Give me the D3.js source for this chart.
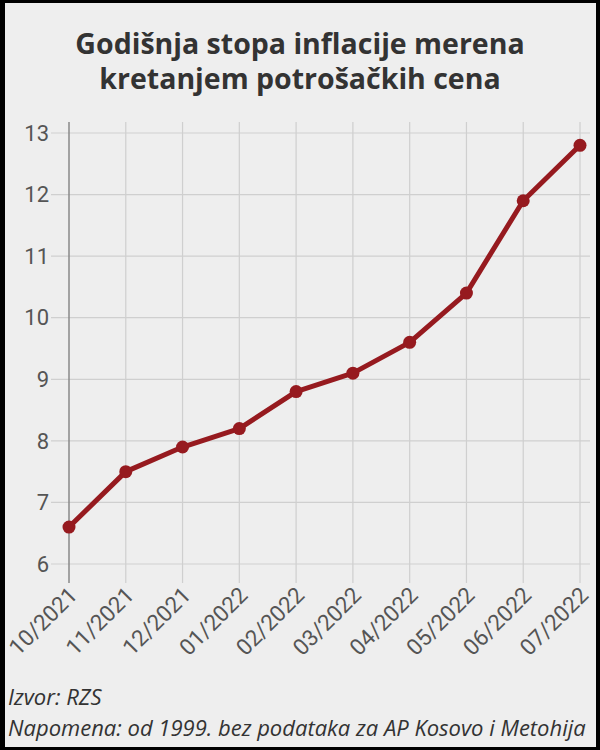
<!DOCTYPE html>
<html><head><meta charset="utf-8">
<script src="https://cdn.jsdelivr.net/npm/d3@7"></script>
<style>
html,body{margin:0;padding:0;background:#000;}
#wrap{position:absolute;left:5px;top:3px;width:591px;height:744px;background:#eeeeee;overflow:hidden;}
</style></head>
<body><div id="wrap"></div>
<script>
const categories = ["10/2021","11/2021","12/2021","01/2022","02/2022","03/2022","04/2022","05/2022","06/2022","07/2022"];
const values = [6.6, 7.5, 7.9, 8.2, 8.8, 9.1, 9.6, 10.4, 11.9, 12.8];
const yTicks = [6,7,8,9,10,11,12,13];
const titleLines = ["Godišnja stopa inflacije merena","kretanjem potrošačkih cena"];
const notes = ["Izvor: RZS","Napomena: od 1999. bez podataka za AP Kosovo i Metohija"];

const ox = 5, oy = 3; // wrapper offset
const svg = d3.select("#wrap").append("svg").attr("width",591).attr("height",744);
const g = svg.append("g").attr("transform",`translate(${-ox},${-oy})`);

g.selectAll("text.title").data(titleLines).join("text")
  .attr("x",300).attr("y",(d,i)=>54+i*35)
  .attr("text-anchor","middle")
  .attr("font-family","'Open Sans', sans-serif").attr("font-weight","bold")
  .attr("font-size",28.5).attr("fill","#333").text(d=>d);

const x = d3.scalePoint().domain(categories).range([69,580]);
const y = d3.scaleLinear().domain([6,13]).range([564,133]);

// horizontal grid
g.append("g").selectAll("line").data(yTicks).join("line")
  .attr("x1",51).attr("x2",590).attr("y1",d=>y(d)).attr("y2",d=>y(d))
  .attr("stroke","#cfcfcf").attr("stroke-width",1.2);
// vertical grid
g.append("g").selectAll("line").data(categories).join("line")
  .attr("x1",d=>x(d)).attr("x2",d=>x(d)).attr("y1",122).attr("y2",583)
  .attr("stroke",(d,i)=>i===0?"#888":"#cfcfcf").attr("stroke-width",(d,i)=>i===0?1.5:1.2);

// y labels
g.append("g").selectAll("text").data(yTicks).join("text")
  .attr("x",49).attr("y",d=>y(d)).attr("dy","0.35em")
  .attr("text-anchor","end").attr("font-family","Roboto, sans-serif")
  .attr("font-size",22).attr("fill","#555").text(d=>d);

// x labels
g.append("g").selectAll("text").data(categories).join("text")
  .attr("transform",d=>`translate(${x(d)+4},${591}) rotate(-45)`)
  .attr("text-anchor","end").attr("dy","0.35em").attr("font-family","Roboto, sans-serif")
  .attr("font-size",22.5).attr("fill","#555").text(d=>d);

const line = d3.line().x((d,i)=>x(categories[i])).y(d=>y(d));
g.append("path").datum(values).attr("d",line).attr("fill","none")
  .attr("stroke","#961a1f").attr("stroke-width",5).attr("stroke-linejoin","round");
g.append("g").selectAll("circle").data(values).join("circle")
  .attr("cx",(d,i)=>x(categories[i])).attr("cy",d=>y(d)).attr("r",6.5)
  .attr("fill","#961a1f");

g.selectAll("text.note").data(notes).join("text")
  .attr("x",8).attr("y",(d,i)=>705+i*31)
  .attr("font-family","'Open Sans', sans-serif").attr("font-style","italic")
  .attr("font-size",22).attr("fill","#333").text(d=>d);
</script></body></html>
